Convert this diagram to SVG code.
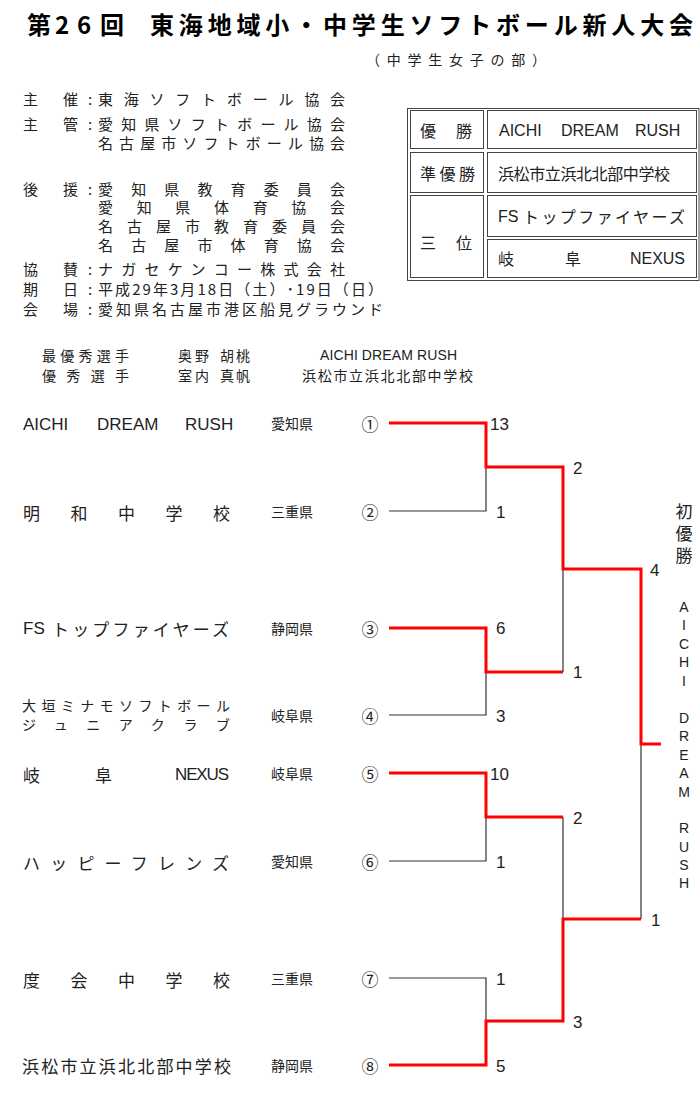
<svg xmlns="http://www.w3.org/2000/svg" width="700" height="1095" viewBox="0 0 700 1095">
<style>
text{font-family:"Noto Sans CJK JP",sans-serif;fill:#222;dominant-baseline:central}
.lat{font-family:"Liberation Sans","Noto Sans CJK JP",sans-serif}
.title{font-size:24px;font-weight:bold;fill:#000}
.h{font-size:15px}
.aw{font-size:14px}
.tm{font-size:17px}
.pf{font-size:14px}
.cn{font-size:17px;text-anchor:middle}
.sc{font-family:"Liberation Sans",sans-serif;font-size:17px}
.vt{font-size:14px;text-anchor:middle;font-family:"Liberation Sans",sans-serif}
.vj{font-size:17px;text-anchor:middle}
.tb{font-size:16px}
.red{fill:none;stroke:#ff0000;stroke-width:3}
.thin{fill:none;stroke:#333;stroke-width:1.2}
.cell{fill:none;stroke:#444;stroke-width:1}
</style>
<rect width="700" height="1095" fill="#fff"/>
<g id="header">
<text class="title" x="27 55 77 100" y="23">第26回</text>
<text class="title" x="150" y="23" textLength="543" lengthAdjust="spacing">東海地域小・中学生ソフトボール新人大会</text>
<text class="h" x="366" y="59" textLength="180" lengthAdjust="spacing" style="font-size:14px">（中学生女子の部）</text>
</g>
<g id="info">
<text class="h" x="23 63" y="98">主催</text><text class="h" x="90" y="98" text-anchor="middle">:</text>
<text class="h" x="98" y="98" textLength="247" lengthAdjust="spacing">東海ソフトボール協会</text>
<text class="h" x="23 63" y="123">主管</text><text class="h" x="90" y="123" text-anchor="middle">:</text>
<text class="h" x="98" y="123" textLength="247" lengthAdjust="spacing">愛知県ソフトボール協会</text>
<text class="h" x="98" y="142" textLength="247" lengthAdjust="spacing">名古屋市ソフトボール協会</text>
<text class="h" x="23 63" y="188">後援</text><text class="h" x="90" y="188" text-anchor="middle">:</text>
<text class="h" x="98" y="188" textLength="247" lengthAdjust="spacing">愛知県教育委員会</text>
<text class="h" x="98" y="206" textLength="247" lengthAdjust="spacing">愛知県体育協会</text>
<text class="h" x="98" y="225" textLength="247" lengthAdjust="spacing">名古屋市教育委員会</text>
<text class="h" x="98" y="244" textLength="247" lengthAdjust="spacing">名古屋市体育協会</text>
<text class="h" x="23 63" y="268">協賛</text><text class="h" x="90" y="268" text-anchor="middle">:</text>
<text class="h" x="98" y="268" textLength="247" lengthAdjust="spacing">ナガセケンコー株式会社</text>
<text class="h" x="23 63" y="288">期日</text><text class="h" x="90" y="288" text-anchor="middle">:</text>
<text class="h" x="98" y="288" textLength="285" lengthAdjust="spacing">平成29年3月18日（土）･19日（日）</text>
<text class="h" x="23 63" y="308">会場</text><text class="h" x="90" y="308" text-anchor="middle">:</text>
<text class="h" x="98" y="308" textLength="285" lengthAdjust="spacing">愛知県名古屋市港区船見グラウンド</text>
</g>
<g id="results-table">
<rect x="407.5" y="108.5" width="291.5" height="172" class="cell"/>
<rect x="410.5" y="110.5" width="73" height="38" class="cell"/>
<rect x="487.5" y="110.5" width="209" height="38" class="cell"/>
<rect x="410.5" y="152.5" width="73" height="40" class="cell"/>
<rect x="487.5" y="152.5" width="209" height="40" class="cell"/>
<rect x="410.5" y="195.5" width="73" height="82" class="cell"/>
<rect x="487.5" y="195.5" width="209" height="41" class="cell"/>
<rect x="487.5" y="239.5" width="209" height="38" class="cell"/>
<text class="tb" x="420 456" y="130">優勝</text>
<text class="tb lat" x="499" y="130">AICHI</text>
<text class="tb lat" x="561" y="130">DREAM</text>
<text class="tb lat" x="635" y="130">RUSH</text>
<text class="tb" x="420" y="173" textLength="55" lengthAdjust="spacing">準優勝</text>
<text class="tb" x="498" y="173" textLength="172" lengthAdjust="spacing">浜松市立浜北北部中学校</text>
<text class="tb" x="420 456" y="242">三位</text>
<text class="tb lat" x="498" y="216">FS</text>
<text class="tb" x="523" y="216" textLength="162" lengthAdjust="spacing">トップファイヤーズ</text>
<text class="tb" x="498 565" y="258">岐阜</text>
<text class="tb lat" x="630" y="258" textLength="55" lengthAdjust="spacing">NEXUS</text>
</g>
<g id="awards">
<text class="aw" x="42" y="355" textLength="87" lengthAdjust="spacing">最優秀選手</text>
<text class="aw" x="178 195 220 236" y="355">奥野胡桃</text>
<text class="aw lat" x="320" y="355" textLength="137" lengthAdjust="spacing">AICHI DREAM RUSH</text>
<text class="aw" x="42" y="375" textLength="87" lengthAdjust="spacing">優秀選手</text>
<text class="aw" x="178 195 220 236" y="375">室内真帆</text>
<text class="aw" x="302" y="375" textLength="171" lengthAdjust="spacing">浜松市立浜北北部中学校</text>
</g>
<g id="team1">
<text class="tm lat" x="23" y="424">AICHI</text>
<text class="tm lat" x="97" y="424">DREAM</text>
<text class="tm lat" x="185" y="424">RUSH</text>
<text class="pf" x="271" y="423">愛知県</text>
<text class="cn" x="370" y="423">①</text>
</g>
<g id="team2">
<text class="tm" x="23" y="512" textLength="207" lengthAdjust="spacing">明和中学校</text>
<text class="pf" x="271" y="511">三重県</text>
<text class="cn" x="370" y="511">②</text>
</g>
<g id="team3">
<text class="tm lat" x="23" y="628">FS</text>
<text class="tm" x="52" y="628" textLength="177" lengthAdjust="spacing">トップファイヤーズ</text>
<text class="pf" x="271" y="628">静岡県</text>
<text class="cn" x="370" y="628">③</text>
</g>
<g id="team4">
<text x="22" y="705" textLength="208" lengthAdjust="spacing" style="font-size:14px">大垣ミナモソフトボール</text>
<text x="22" y="724" textLength="208" lengthAdjust="spacing" style="font-size:14px">ジュニアクラブ</text>
<text class="pf" x="271" y="715">岐阜県</text>
<text class="cn" x="370" y="715">④</text>
</g>
<g id="team5">
<text class="tm" x="23 95" y="774">岐阜</text>
<text class="tm lat" x="175" y="774" textLength="54" lengthAdjust="spacing">NEXUS</text>
<text class="pf" x="271" y="773">岐阜県</text>
<text class="cn" x="370" y="773">⑤</text>
</g>
<g id="team6">
<text class="tm" x="23" y="862" textLength="206" lengthAdjust="spacing">ハッピーフレンズ</text>
<text class="pf" x="271" y="861">愛知県</text>
<text class="cn" x="370" y="861">⑥</text>
</g>
<g id="team7">
<text class="tm" x="23" y="979" textLength="207" lengthAdjust="spacing">度会中学校</text>
<text class="pf" x="271" y="978">三重県</text>
<text class="cn" x="370" y="978">⑦</text>
</g>
<g id="team8">
<text class="tm" x="22" y="1065" textLength="209" lengthAdjust="spacing">浜松市立浜北北部中学校</text>
<text class="pf" x="271" y="1065">静岡県</text>
<text class="cn" x="370" y="1065">⑧</text>
</g>
<g id="connectors">
<polyline class="thin" points="389,511 486,511 486,467"/>
<polyline class="thin" points="389,715 486,715 486,672"/>
<polyline class="thin" points="563,569 563,672"/>
<polyline class="thin" points="389,861 486,861 486,817"/>
<polyline class="thin" points="563,817 563,919"/>
<polyline class="thin" points="389,978 486,978 486,1021"/>
<polyline class="thin" points="641,744 641,919"/>
<polyline class="red" points="389,423 486,423 486,467 563,467 563,569 641,569 641,744 661,744"/>
<polyline class="red" points="389,628 486,628 486,672 563,672"/>
<polyline class="red" points="389,773 486,773 486,817 563,817"/>
<polyline class="red" points="389,1065 486,1065 486,1021 563,1021 563,919 641,919"/>
</g>
<g id="scores">
<text class="sc" x="490" y="424">13</text>
<text class="sc" x="496" y="512">1</text>
<text class="sc" x="573" y="468">2</text>
<text class="sc" x="650" y="570">4</text>
<text class="sc" x="496" y="628">6</text>
<text class="sc" x="573" y="672">1</text>
<text class="sc" x="496" y="716">3</text>
<text class="sc" x="490" y="774">10</text>
<text class="sc" x="573" y="818">2</text>
<text class="sc" x="496" y="862">1</text>
<text class="sc" x="651" y="920">1</text>
<text class="sc" x="496" y="979">1</text>
<text class="sc" x="573" y="1022">3</text>
<text class="sc" x="496" y="1066">5</text>
</g>
<g id="champion">
<text class="vj" x="684" y="510">初</text>
<text class="vj" x="684" y="532">優</text>
<text class="vj" x="684" y="554">勝</text>
<text class="vt" x="684" y="607">A</text>
<text class="vt" x="684" y="625">I</text>
<text class="vt" x="684" y="644">C</text>
<text class="vt" x="684" y="662">H</text>
<text class="vt" x="684" y="681">I</text>
<text class="vt" x="684" y="718">D</text>
<text class="vt" x="684" y="736">R</text>
<text class="vt" x="684" y="755">E</text>
<text class="vt" x="684" y="773">A</text>
<text class="vt" x="684" y="792">M</text>
<text class="vt" x="684" y="828">R</text>
<text class="vt" x="684" y="847">U</text>
<text class="vt" x="684" y="865">S</text>
<text class="vt" x="684" y="883">H</text>
</g>
</svg>
